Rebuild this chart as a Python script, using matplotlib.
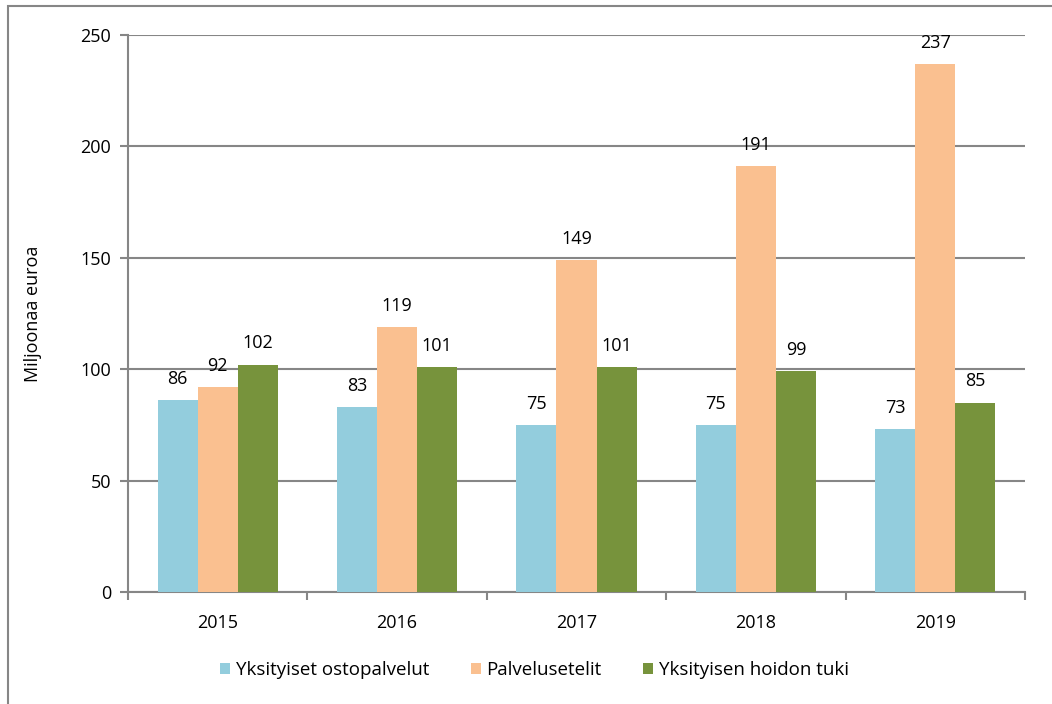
import numpy as np
import matplotlib.pyplot as plt
from matplotlib.patches import Rectangle

years = ['2015', '2016', '2017', '2018', '2019']
ostopalvelut = [86, 83, 75, 75, 73]
palvelusetelit = [92, 119, 149, 191, 237]
hoidon_tuki = [102, 101, 101, 99, 85]
series_names = ['Yksityiset ostopalvelut', 'Palvelusetelit', 'Yksityisen hoidon tuki']
colors = ['#93CDDD', '#FAC090', '#77933C']

plt.rcParams['font.family'] = ['Open Sans', 'DejaVu Sans']
grid_c = '#868686'
fs = 13

fig = plt.figure(figsize=(10.52, 7.04), dpi=100)
ax = fig.add_axes([128/1052, 1-592/704, (1025-128)/1052, (592-35)/704])

# outer chart frame
fig.patches.append(Rectangle((8/1052, -0.05), 1.1, 1-6/704+0.05, transform=fig.transFigure,
                             fill=False, edgecolor=grid_c, lw=1.5))

x = np.arange(len(years))
w = 0.223
for i, (vals, name) in enumerate(zip([ostopalvelut, palvelusetelit, hoidon_tuki], series_names)):
    pos = x + (i-1)*w
    ax.bar(pos, vals, width=w, color=colors[i], label=name, zorder=3)
    for p, v in zip(pos, vals):
        ax.text(p, v+5.5, str(v), ha='center', va='bottom', fontsize=fs, zorder=4)

ax.set_xlim(-0.5, 4.5)
ax.set_ylim(0, 250)
ax.set_yticks(np.arange(0, 251, 50))
ax.yaxis.grid(True, color=grid_c, lw=1.5, zorder=0)
ax.set_xticks(x)
ax.set_xticklabels(years)
ax.set_xticks(np.arange(-0.5, 5, 1), minor=True)
ax.tick_params(axis='x', which='major', length=0, pad=16, labelsize=fs)
ax.tick_params(axis='x', which='minor', length=6, width=1.5, color=grid_c, direction='out')
ax.tick_params(axis='y', length=6, width=1.5, color=grid_c, labelsize=fs, pad=6)
for s in ['top', 'right']:
    ax.spines[s].set_visible(False)
for s in ['left', 'bottom']:
    ax.spines[s].set_color(grid_c)
    ax.spines[s].set_linewidth(1.5)
ax.set_ylabel('Miljoonaa euroa', fontsize=fs)
ax.yaxis.set_label_coords(-0.096, 0.5)

fig.legend(loc='center', bbox_to_anchor=(0.508, 1-670/704), ncol=3, frameon=False, fontsize=13.5,
           handlelength=0.55, handleheight=0.55, handletextpad=0.3, columnspacing=2.2)

fig.savefig('out.png', dpi=100)
